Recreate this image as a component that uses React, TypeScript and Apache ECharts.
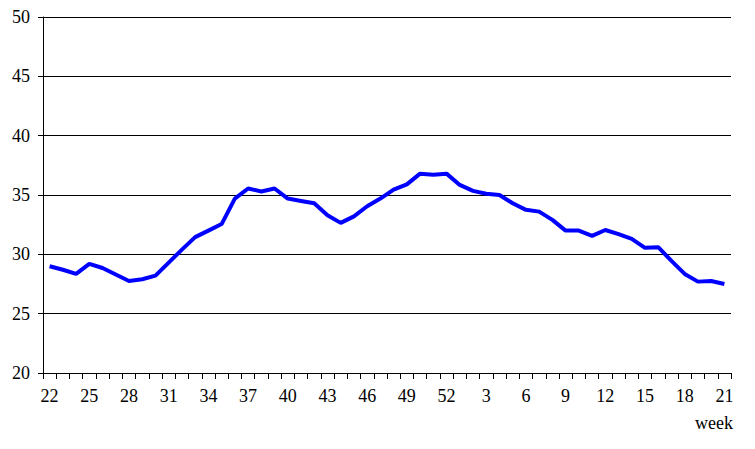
import React, { useEffect, useRef } from "react";
import * as echarts from "echarts";

const weeks: string[] = [
  "22","23","24","25","26","27","28","29","30","31","32","33","34","35","36","37","38","39","40","41",
  "42","43","44","45","46","47","48","49","50","51","52","1","2","3","4","5","6","7","8","9",
  "10","11","12","13","14","15","16","17","18","19","20","21",
];

const values: number[] = [
  29.0, 28.7, 28.35, 29.2, 28.85, 28.3, 27.75, 27.9, 28.2, 29.3,
  30.4, 31.45, 32.0, 32.55, 34.7, 35.55, 35.3, 35.55, 34.7, 34.5,
  34.3, 33.3, 32.65, 33.2, 34.05, 34.7, 35.45, 35.9, 36.8, 36.7,
  36.8, 35.85, 35.35, 35.1, 35.0, 34.3, 33.75, 33.6, 32.9, 32.0,
  32.0, 31.55, 32.05, 31.7, 31.3, 30.55, 30.6, 29.45, 28.35, 27.7,
  27.75, 27.5,
];

const yMin = 20;
const yMax = 50;
const yStep = 5;
const xName = "week";

export default function App() {
  const ref = useRef<HTMLDivElement>(null);
  useEffect(() => {
    if (!ref.current) return;
    const chart = echarts.init(ref.current, null, { renderer: "svg" });
    const font = "Liberation Serif";
    chart.setOption({
      animation: false,
      backgroundColor: "#ffffff",
      textStyle: { fontFamily: font },
      grid: { left: 43, right: 24, top: 17, bottom: 76, containLabel: false },
      xAxis: {
        type: "category",
        data: weeks,
        boundaryGap: true,
        axisLine: { show: true, lineStyle: { color: "#000", width: 1 } },
        axisTick: { show: true, interval: 0, length: 6, lineStyle: { color: "#000" } },
        axisLabel: {
          interval: 2,
          margin: 14,
          color: "#000",
          fontFamily: font,
          fontSize: 18,
        },
        splitLine: { show: false },
      },
      yAxis: {
        type: "value",
        min: yMin,
        max: yMax,
        interval: yStep,
        axisLine: { show: true, lineStyle: { color: "#000", width: 1 } },
        axisTick: { show: true, length: 5, lineStyle: { color: "#000" } },
        axisLabel: { margin: 13, color: "#000", fontFamily: font, fontSize: 18 },
        splitLine: { show: true, lineStyle: { color: "#000", width: 1 } },
      },
      graphic: [
        {
          type: "text",
          right: 22,
          top: 414,
          style: { text: xName, fill: "#000", fontFamily: font, fontSize: 18 },
        },
      ],
      series: [
        {
          type: "line",
          data: values,
          showSymbol: false,
          symbol: "none",
          lineStyle: { color: "#0000ff", width: 4 },
          itemStyle: { color: "#0000ff" },
        },
      ],
    });
    return () => chart.dispose();
  }, []);
  return <div ref={ref} style={{ width: 755, height: 449, position: "absolute", left: 0, top: 0 }} />;
}
